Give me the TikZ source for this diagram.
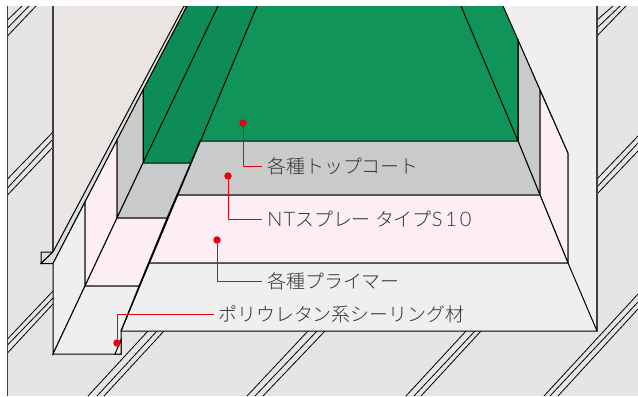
\documentclass[tikz,border=0pt]{standalone}
\usepackage{fontspec}
\newfontfamily\cjk[UprightFont={* Light}]{Noto Sans CJK JP}
\newfontfamily\latn[LetterSpace=6]{Lato Light}
\newfontfamily\latnwide[LetterSpace=14]{Lato Light}
\definecolor{wallgray}{HTML}{E5E5E5}
\definecolor{lightface}{HTML}{EFEFEF}
\definecolor{beigeface}{HTML}{EAE5E2}
\definecolor{pinkface}{HTML}{FDEEF5}
\definecolor{grayface}{HTML}{C9CBCA}
\definecolor{greenmain}{HTML}{10945A}
\definecolor{greenwall}{HTML}{0D8C55}
\definecolor{tabface}{HTML}{D9DDDC}
\definecolor{redlead}{HTML}{E60012}
\definecolor{labeltext}{HTML}{333333}
\tikzset{
  face/.style={draw=black,line width=0.75pt,line join=miter},
  joint/.style={draw=black,line width=0.6pt},
  edge/.style={draw=black,line width=0.75pt},
  frameline/.style={draw=black!75,line width=1pt},
  dot/.style={circle,fill=redlead,inner sep=0pt,minimum size=5.6pt},
  lead/.style={draw=redlead,line width=0.7pt},
  callout/.style={font=\cjk\fontsize{14.2pt}{14.2pt}\selectfont,text=labeltext,anchor=west,inner sep=0pt}
}
\begin{document}
\begin{tikzpicture}[x=0.75pt,y=-0.75pt]
\useasboundingbox (0,0) rectangle (638,396);
\fill[white] (0,0) rectangle (638,396);
\fill[wallgray] (7.5,6) rectangle (638,396);
% joints in the wall
\foreach \a/\b/\c/\d in {7.5/20/22/6, 7.5/28/29/6, 7.5/36/36/6,
  7.5/179/53/132, 7.5/188/53/139, 7.5/195/53/147,
  7.5/339/53/291, 7.5/345/53/298, 7.5/353/53/304,
  597/20/613/6, 597/28/620/6, 597/36/626/6,
  597/179/638/136, 597/187/638/143, 597/194/638/151,
  88/396/148/331, 97/396/157/331, 104/396/164/331,
  247/396/308/331, 255/396/317/331, 263/396/325/331,
  406/396/466/331, 414/396/475/331, 421/396/481/331,
  544/396/638/294, 550/396/638/302, 558/396/638/309}
  {\draw[joint] (\a,\b) -- (\c,\d);}
\draw[frameline] (7.5,6) -- (7.5,396);
% beige return
\fill[beigeface] (53,6) -- (184,6) -- (53,252) -- cycle;
\draw[frameline] (53,6) -- (53,252);
% tab
\filldraw[face,fill=tabface] (41,252) -- (53,252) -- (41,263.5) -- cycle;
\filldraw[face,fill=tabface] (53,252) -- (184,6) -- (187,6) -- (53,263.5) -- (41,263.5) -- cycle;
% left light face
\filldraw[face,fill=lightface] (53,263.5) -- (85,202) -- (85,286) -- (53,354) -- cycle;
% left pink wall
\filldraw[face,fill=pinkface] (117,140) -- (85,202) -- (85,286) -- (117,218) -- cycle;
% left gray wall
\filldraw[face,fill=grayface] (143,90) -- (143,163) -- (117,218) -- (117,140) -- cycle;
% left green wall
\fill[greenwall] (187,6) -- (143,90) -- (143,163) -- (190.7,163) -- (257,6) -- cycle;
\draw[edge] (143,90) -- (143,163) -- (190.7,163);
\draw[edge] (218,6) -- (143,163);
\draw[edge] (187,6) -- (143,90);
% main green floor
\fill[greenmain] (257,6) -- (461,6) -- (518,141) -- (200,141) -- cycle;
% right green wall
\fill[greenmain] (461,6) -- (503,6) -- (518,39) -- (518,141) -- cycle;
% right gray wall
\filldraw[face,fill=grayface] (518,39) -- (540,90) -- (540,195) -- (518,141) -- cycle;
% right pink wall
\filldraw[face,fill=pinkface] (540,90) -- (568,153) -- (568,263) -- (540,195) -- cycle;
% right light face
\fill[lightface] (503,6) -- (597,6) -- (597,331) -- (568,263) -- (568,153) -- cycle;
\draw[edge] (503,6) -- (568,153) -- (568,263);
\draw[frameline] (597,6) -- (597,331);
\draw[edge] (461,6) -- (518,141) -- (518,39);
% floors
\filldraw[face,fill=grayface] (200,141) -- (518,141) -- (540,195) -- (177,195) -- cycle;
\filldraw[face,fill=grayface] (143,163) -- (190.7,163) -- (167,218) -- (117,218) -- cycle;
\filldraw[face,fill=pinkface] (177,195) -- (540,195) -- (568,263) -- (149,263) -- cycle;
\filldraw[face,fill=pinkface] (117,218) -- (167,218) -- (139,286) -- (85,286) -- cycle;
\filldraw[face,fill=lightface] (149,263) -- (568,263) -- (597,331) -- (121,331) -- cycle;
\filldraw[face,fill=lightface] (85,286) -- (139,286) -- (121,331) -- (121,354) -- (53,354) -- cycle;
\filldraw[face,fill=pinkface] (115,354) -- (121,354) -- (121,340) -- cycle;
\draw[edge] (257,6) -- (121,331);
% leaders
\node[dot] (d1) at (243,123) {};
\node[dot] (d2) at (228,176) {};
\node[dot] (d3) at (217,240) {};
\node[dot] (d4) at (117,343) {};
\node[callout] (l1) at (267,166) {各種トップコート};
\node[callout] (l2) at (267,219) {{\latn\fontsize{15pt}{15pt}\selectfont NT}スプレー タイプ{\latnwide\fontsize{15pt}{15pt}\selectfont S10}};
\node[callout] (l3) at (267,281) {各種プライマー};
\node[callout] (l4) at (218,314.5) {ポリウレタン系シーリング材};
\draw[lead] (d1) |- ([xshift=-3.5pt]l1.west);
\draw[lead] (d2) |- ([xshift=-3.5pt]l2.west);
\draw[lead] (d3) |- ([xshift=-3.5pt]l3.west);
\draw[lead] (d4) |- ([xshift=-3pt]l4.west);
\fill[white] (0,0) rectangle (638,6);
\end{tikzpicture}
\end{document}
